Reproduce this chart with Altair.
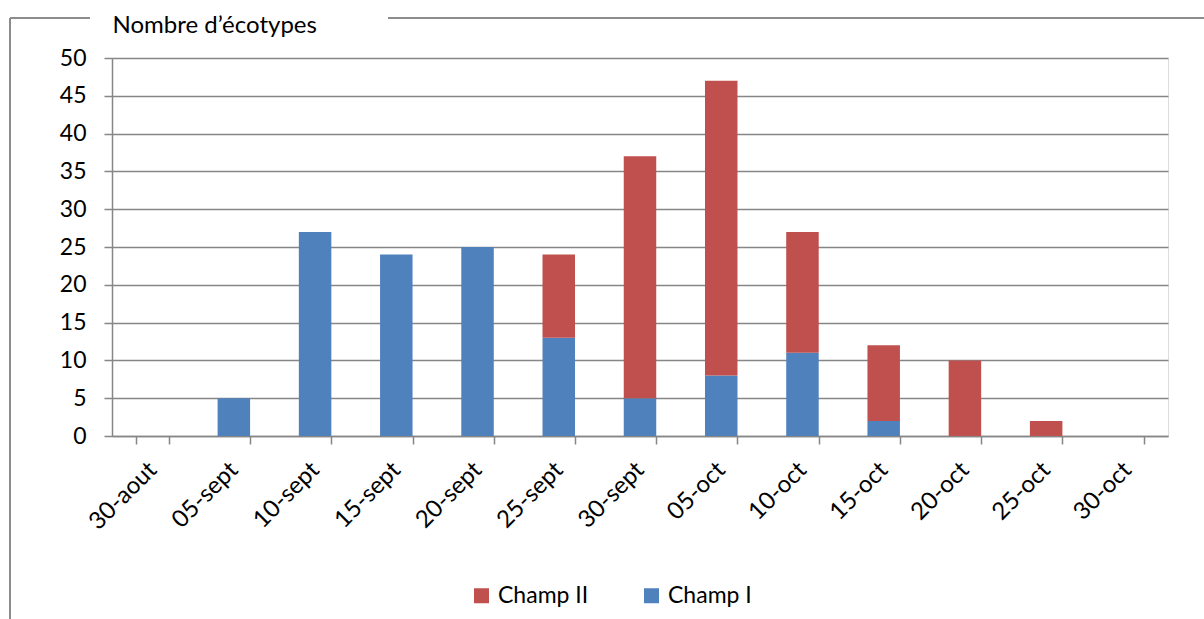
import altair as alt
import pandas as pd

dates = ["30-aout", "05-sept", "10-sept", "15-sept", "20-sept", "25-sept", "30-sept",
         "05-oct", "10-oct", "15-oct", "20-oct", "25-oct", "30-oct"]
champ1 = [0, 5, 27, 24, 25, 13, 5, 8, 11, 2, 0, 0, 0]
champ2 = [0, 0, 0, 0, 0, 11, 32, 39, 16, 10, 10, 2, 0]
series = ["Champ II", "Champ I"]
colors = ["#C0504D", "#4F81BD"]
y_ticks = [0, 5, 10, 15, 20, 25, 30, 35, 40, 45, 50]

rows = []
for d, a, b in zip(dates, champ1, champ2):
    rows.append({"date": d, "serie": "Champ I", "val": a, "ord": 0})
    rows.append({"date": d, "serie": "Champ II", "val": b, "ord": 1})
df = pd.DataFrame(rows)

FONT = "Lato"
FS = 23
GRID = "#868686"

bars = alt.Chart(df).mark_bar().encode(
    x=alt.X("date:N", sort=dates,
            scale=alt.Scale(domain=dates, paddingInner=0.6, paddingOuter=0.3),
            axis=alt.Axis(title=None, labelAngle=-45, labelFontSize=FS + 1, labelFont=FONT,
                          labelColor="black", domainColor=GRID, domainWidth=1.5,
                          tickColor=GRID, tickWidth=1.5, tickSize=8, tickBand="extent",
                          labelPadding=22, labelAlign="right", labelBaseline="middle")),
    y=alt.Y("val:Q", stack="zero",
            scale=alt.Scale(domain=[0, 50], nice=False),
            axis=alt.Axis(values=y_ticks, title="Nombre d\u2019écotypes", titleAngle=0,
                          titleX=0, titleY=-26, titleAlign="left", titleBaseline="alphabetic",
                          titleFont=FONT, titleFontSize=FS + 1, titleFontWeight="normal",
                          titleColor="black",
                          labelFontSize=FS, labelFont=FONT, labelColor="black",
                          labelPadding=18,
                          grid=True, gridColor=GRID, gridWidth=1.5,
                          domainColor=GRID, domainWidth=1.5,
                          tickColor=GRID, tickWidth=1.5, tickSize=8)),
    color=alt.Color("serie:N", scale=alt.Scale(domain=series, range=colors),
                    legend=alt.Legend(title=None, orient="none", direction="horizontal",
                                      legendX=358, legendY=526, symbolType="square",
                                      symbolSize=225, symbolStrokeWidth=0,
                                      labelFontSize=FS, labelFont=FONT, labelColor="black",
                                      columnPadding=51, labelOffset=5)),
    order=alt.Order("ord:Q"),
).transform_filter("datum.val > 0")

one = pd.DataFrame({"k": [0]})
frame_left = alt.Chart(one).mark_rule(color="#8C8C8C", strokeWidth=2).encode(
    x=alt.value(-102), y=alt.value(-40), y2=alt.value(565))
frame_top1 = alt.Chart(one).mark_rule(color="#8C8C8C", strokeWidth=2).encode(
    x=alt.value(-102), x2=alt.value(-22), y=alt.value(-40))
frame_top2 = alt.Chart(one).mark_rule(color="#8C8C8C", strokeWidth=2).encode(
    x=alt.value(276), x2=alt.value(1100), y=alt.value(-40))

chart = alt.layer(frame_left, frame_top1, frame_top2, bars).properties(
    width=1056, height=378,
    autosize=alt.AutoSizeParams(type="none"),
    padding={"left": 112, "top": 58, "right": 36, "bottom": 183},
).configure_view(stroke=None).configure(background="white")

chart.save("out.html", embed_options={"renderer": "svg", "actions": False})
